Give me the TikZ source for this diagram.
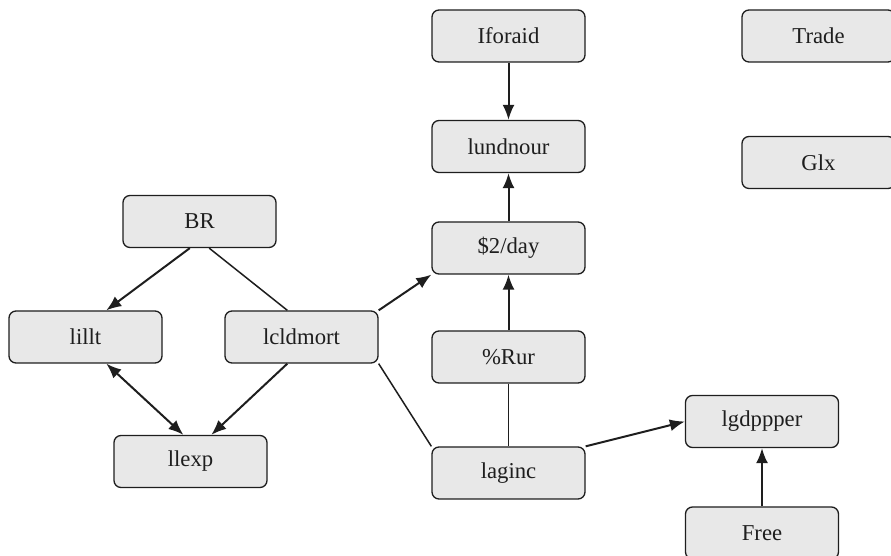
\documentclass[tikz,border=0pt]{standalone}
\usepackage{fontspec}
\setmainfont{Liberation Serif}
\usetikzlibrary{arrows.meta}

\definecolor{boxfill}{HTML}{E8E8E8}
\definecolor{ink}{HTML}{1E1E1E}

\begin{document}
\begin{tikzpicture}[x=1pt, y=1pt,
    var/.style={draw=ink, fill=boxfill, line width=1.3pt, rounded corners=7pt,
        minimum width=153pt, minimum height=52pt, inner sep=0pt, text=ink,
        font=\fontsize{22.7}{26}\selectfont},
    arr/.style={draw=ink, line width=2pt, -{Latex[length=15pt, width=12pt]}},
    dbl/.style={draw=ink, line width=2pt, {Latex[length=15pt, width=12pt]}-{Latex[length=15pt, width=12pt]}},
    lnk/.style={draw=ink, line width=1.5pt}]

    \useasboundingbox (0, 0) rectangle (891, 556);
    \clip (0, 0) rectangle (891, 556);

    \node[var] (iforaid) at (508.5, 520) {Iforaid};
    \node[var] (trade) at (818.5, 520) {Trade};
    \node[var] (lundnour) at (508.5, 409.5) {lundnour};
    \node[var] (glx) at (818.5, 393.5) {Glx};
    \node[var] (br) at (199.5, 334.5) {BR};
    \node[var] (day) at (508.5, 308) {\$2/day};
    \node[var] (lillt) at (85.5, 219) {lillt};
    \node[var] (lcldmort) at (301.5, 219) {lcldmort};
    \node[var] (rur) at (508.5, 199) {\%Rur};
    \node[var] (lgdppper) at (762, 134.5) {lgdppper};
    \node[var] (llexp) at (190.5, 94.5) {llexp};
    \node[var] (laginc) at (508.5, 83) {laginc};
    \node[var] (free) at (762, 23) {Free};

    \draw[arr] (br.250) -- (lillt.52);
    \draw[lnk] (br.290) -- (lcldmort.118);
    \draw[dbl] (lillt.308) -- (llexp.105);
    \draw[arr] (lcldmort.242) -- (llexp.52);

    \draw[arr] (lcldmort.north east) -- (day.south west);
    \draw[lnk] (lcldmort.south east) -- (laginc.north west);

    \draw[arr] (iforaid.south) -- (lundnour.north);
    \draw[arr] (day.north) -- (lundnour.south);
    \draw[arr] (rur.north) -- (day.south);
    \draw[lnk] (rur.south) -- (laginc.north);

    \draw[arr] (laginc.north east) -- (lgdppper.west);
    \draw[arr] (free.north) -- (lgdppper.south);

\end{tikzpicture}
\end{document}
